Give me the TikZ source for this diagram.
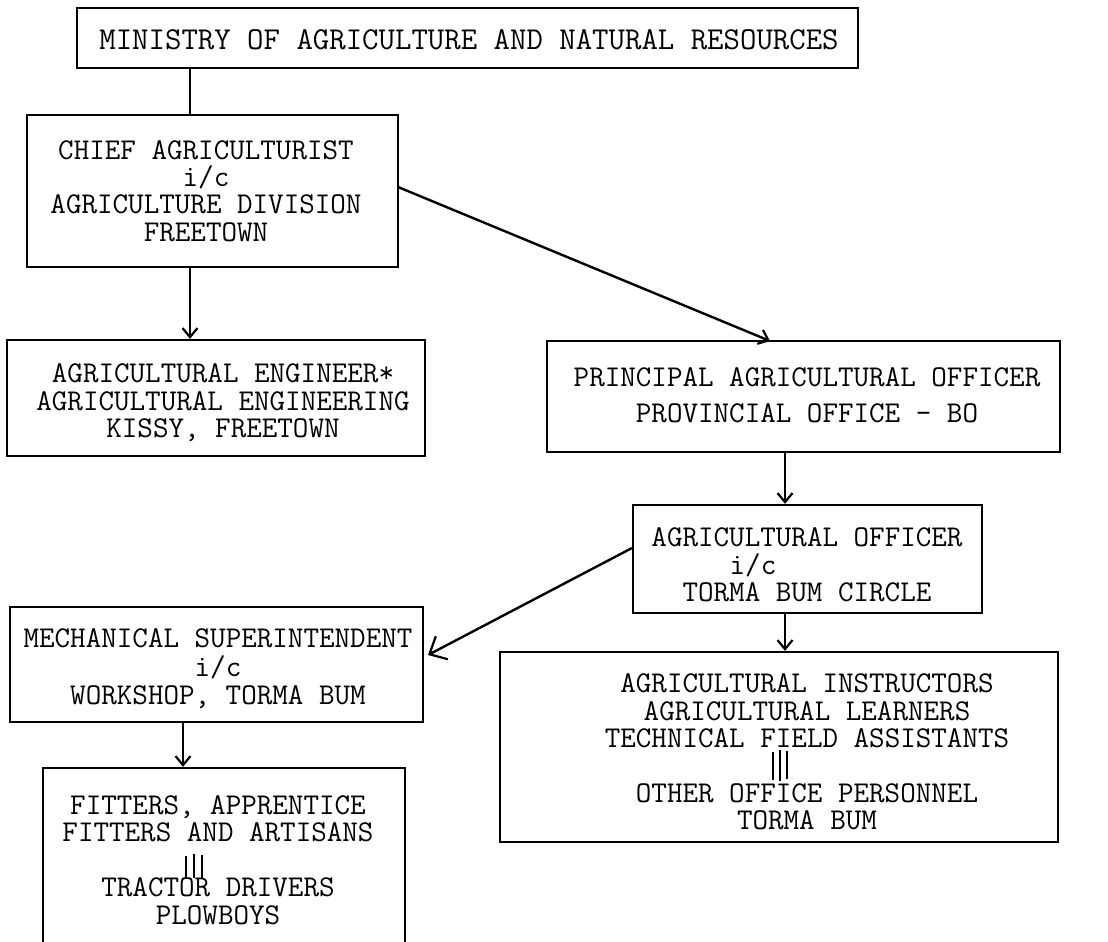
\documentclass[tikz,border=0pt]{standalone}
\usetikzlibrary{arrows.meta}
\begin{document}
\begin{tikzpicture}[x=1pt,y=-1pt,
  box/.style={draw, line width=2.4pt, rectangle, inner sep=0pt},
  lbl/.style={align=center, font=\fontsize{30.2}{27.4}\selectfont\ttfamily, inner sep=0pt},
  conn/.style={line width=2.4pt},
  arr/.style={conn, -{Straight Barb[length=9pt,width=15pt,line width=2.2pt]}},
  bigarr/.style={conn, -{Straight Barb[length=14pt,width=26pt,line width=2.2pt]}},
  marks/.style={line width=1.8pt}]
\useasboundingbox (0,0) rectangle (1108,942);
\clip (0,0) rectangle (1108,942);
% boxes
\node[box, minimum width=781pt, minimum height=60pt] (top) at (467.5,38) {};
\node[box, minimum width=371pt, minimum height=152pt] (chief) at (212.5,191) {};
\node[box, minimum width=418pt, minimum height=116pt] (eng) at (216,398) {};
\node[box, minimum width=513pt, minimum height=111pt] (prin) at (803.5,396.5) {};
\node[box, minimum width=349pt, minimum height=108pt] (ao) at (807.5,559) {};
\node[box, minimum width=413pt, minimum height=115pt] (mech) at (216.5,664.5) {};
\node[box, minimum width=362pt, minimum height=232pt] (fit) at (224,884) {};
\node[box, minimum width=558pt, minimum height=190pt] (instr) at (779,747) {};
% texts
\node[lbl, font=\fontsize{31.9}{28}\selectfont\ttfamily] (ttop) at (469,40) {MINISTRY OF AGRICULTURE AND NATURAL RESOURCES};
\node[lbl] (tchief) at (206,191) {CHIEF AGRICULTURIST\\i/c\\AGRICULTURE DIVISION\\FREETOWN};
\node[lbl] (teng) at (223,403) {AGRICULTURAL ENGINEER*\\AGRICULTURAL ENGINEERING\\KISSY, FREETOWN};
\node[lbl, font=\fontsize{30.2}{36}\selectfont\ttfamily] (tprin) at (807,395) {PRINCIPAL AGRICULTURAL OFFICER\\PROVINCIAL OFFICE - BO};
\node[lbl] (tao) at (807,565) {AGRICULTURAL OFFICER\\i/c\hspace*{108pt}\mbox{}\\TORMA BUM CIRCLE};
\node[lbl, font=\fontsize{30.2}{28.5}\selectfont\ttfamily] (tmech) at (218,669) {MECHANICAL SUPERINTENDENT\\i/c\\WORKSHOP, TORMA BUM};
\node[lbl] (tfit) at (218,860) {FITTERS, APPRENTICE\\FITTERS AND ARTISANS\\[27.4pt]TRACTOR DRIVERS\\PLOWBOYS};
\node[lbl] (tinstr) at (807,752) {AGRICULTURAL INSTRUCTORS\\AGRICULTURAL LEARNERS\\TECHNICAL FIELD ASSISTANTS\\[27.4pt]OTHER OFFICE PERSONNEL\\TORMA BUM};
% ditto marks
\draw[marks] (186,856) -- (186,878) (194,854) -- (194,878) (202,855) -- (202,878);
\draw[marks] (773,752) -- (773,780) (780,750) -- (780,781) (787,751) -- (787,779);
% connectors
\coordinate (xa) at (190,0);
\coordinate (xb) at (785,0);
\coordinate (xc) at (183,0);
\draw[conn] (top.south -| xa) -- (chief.north -| xa);
\draw[arr] (chief.south -| xa) -- (eng.north -| xa);
\coordinate (cr) at (398,187);
\coordinate (pt) at (770,341);
\draw[arr] (cr) -- (pt);
\draw[arr] (prin.south -| xb) -- (ao.north -| xb);
\draw[arr] (ao.south -| xb) -- (instr.north -| xb);
\coordinate (al) at (632,548);
\coordinate (mr) at (428,655);
\draw[bigarr] (al) -- (mr);
\draw[arr] (mech.south -| xc) -- (fit.north -| xc);
\end{tikzpicture}
\end{document}
